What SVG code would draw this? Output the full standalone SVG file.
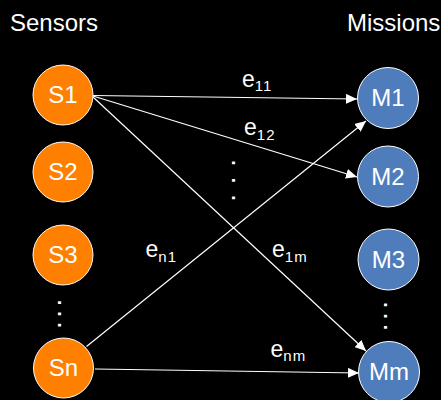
<svg xmlns="http://www.w3.org/2000/svg" width="441" height="400" viewBox="0 0 441 400">
<style>
.bg{fill:#000}
.t{font-family:"Liberation Sans",Arial,sans-serif;fill:#fff}
.title{font-size:24px}
.nl{font-size:24px;text-anchor:middle}
.s{fill:#ff8000;stroke:#fff;stroke-width:1}
.m{fill:#4f7cbb;stroke:#fff;stroke-width:1}
.e{stroke:#fff;stroke-width:1.2;fill:none;marker-end:url(#ah)}
.lab{font-size:23px}
.sub{font-size:15px;letter-spacing:1px}
.dot{font-size:28px}
</style>
<defs>
<marker id="ah" markerUnits="userSpaceOnUse" markerWidth="12" markerHeight="10" refX="11" refY="5" orient="auto">
<path d="M0,0 L11,5 L0,10 Z" fill="#fff"/>
</marker>
</defs>
<rect class="bg" x="0" y="0" width="441" height="400"/>
<text class="t title" x="10" y="31">Sensors</text>
<text class="t title" x="347" y="31">Missions</text>
<g id="connectors">
<line class="e" x1="93" y1="95.5" x2="357" y2="99"/>
<line class="e" x1="93" y1="96" x2="357" y2="177"/>
<line class="e" x1="93" y1="97" x2="366" y2="351"/>
<line class="e" x1="86.5" y1="346.5" x2="366" y2="121"/>
<line class="e" x1="95" y1="369" x2="359" y2="373"/>
</g>
<g id="edge-labels">
<text class="t lab" x="242" y="86.5">e<tspan class="sub" dy="4.5">11</tspan></text>
<text class="t lab" x="244" y="135">e<tspan class="sub" dy="4.5">12</tspan></text>
<text class="t lab" x="145.5" y="257">e<tspan class="sub" dy="4.5">n1</tspan></text>
<text class="t lab" x="272" y="257">e<tspan class="sub" dy="4.5">1m</tspan></text>
<text class="t lab" x="270.5" y="356.5">e<tspan class="sub" dy="4.5">nm</tspan></text>
</g>
<g id="S1"><circle class="s" cx="63" cy="95" r="30"/><text class="t nl" x="63" y="103">S1</text></g>
<g id="S2"><circle class="s" cx="63" cy="172" r="30"/><text class="t nl" x="63" y="180">S2</text></g>
<g id="S3"><circle class="s" cx="63" cy="255" r="30"/><text class="t nl" x="63" y="263">S3</text></g>
<g id="Sn"><circle class="s" cx="63.5" cy="368" r="30"/><text class="t nl" x="63.5" y="376">Sn</text></g>
<g id="M1"><circle class="m" cx="388" cy="98" r="30.5"/><text class="t nl" x="388" y="106">M1</text></g>
<g id="M2"><circle class="m" cx="388" cy="176.5" r="30.5"/><text class="t nl" x="388" y="184.5">M2</text></g>
<g id="M3"><circle class="m" cx="388.5" cy="259.5" r="30.5"/><text class="t nl" x="388.5" y="267.5">M3</text></g>
<g id="Mm"><circle class="m" cx="389" cy="372" r="30.5"/><text class="t nl" x="389" y="380">Mm</text></g>
<g id="dots">
<text class="t dot" transform="translate(231.6 159.1) rotate(90)" letter-spacing="9.7">...</text>
<text class="t dot" transform="translate(57.9 298.8) rotate(90)" letter-spacing="3.4">...</text>
<text class="t dot" transform="translate(383.6 301.1) rotate(90)" letter-spacing="3.4">...</text>
</g>
</svg>
